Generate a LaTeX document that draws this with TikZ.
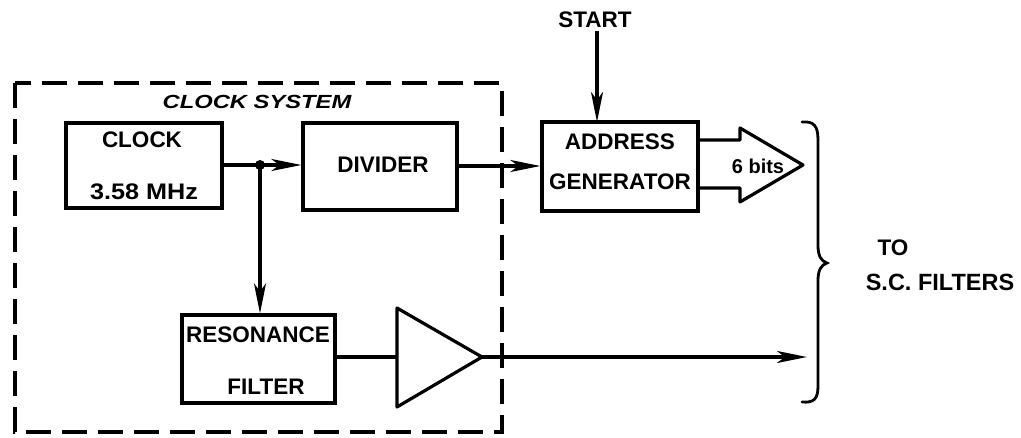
\documentclass[tikz,border=0pt]{standalone}
\usepackage{fontspec}
\setmainfont{Liberation Sans}
\usetikzlibrary{arrows.meta}
\tikzset{
  blk/.style={draw, line width=3.2pt, minimum width=#1, inner sep=0pt},
  lbl/.style={font=\fontsize{22.5}{24}\selectfont\bfseries, inner sep=0pt},
  wire/.style={line width=3.2pt},
  arr/.style={wire, -{Stealth[length=30pt,width=12pt,inset=8pt]}},
  dash box/.style={line width=3.2pt, dash pattern=on 25pt off 11pt},
}
\begin{document}
\begin{tikzpicture}[x=1pt,y=-1pt]
\useasboundingbox (0,0) rectangle (1021,437);
% dashed clock system box
\draw[dash box] (15,83) rectangle (502,432);
\node[font=\fontsize{19}{22}\selectfont\bfseries\itshape\addfontfeature{FakeStretch=1.25}, inner sep=0pt] (cs) at (257,102) {CLOCK SYSTEM};
% blocks
\node[blk=156pt, minimum height=85pt] (clock) at (144,165.5) {};
\node[lbl] (clk1) at (142,140) {CLOCK};
\node[lbl, font=\fontsize{22.5}{24}\selectfont\bfseries\addfontfeature{FakeStretch=1.12}] (clk2) at (144,192) {3.58 MHz};
\node[blk=154pt, minimum height=87pt] (div) at (380,166.5) {};
\node[lbl] (divt) at (383,165) {DIVIDER};
\node[blk=156pt, minimum height=89pt] (addr) at (620,166.5) {};
\node[lbl] (addr1) at (620,142) {ADDRESS};
\node[lbl] (addr2) at (620,182) {GENERATOR};
\node[blk=153pt, minimum height=88pt] (res) at (258.5,359) {};
\node[lbl] (res1) at (258,335) {RESONANCE};
\node[lbl] (res2) at (266,387) {FILTER};
% amplifier
\coordinate (ampin) at (397,357);
\coordinate (ampout) at (482,357);
\draw[wire, line join=round] (397,308) -- (397,407) -- (ampout) -- cycle;
% junction
\coordinate (jn) at (260,165);
\fill (jn) circle (5pt);
\draw[wire] (clock.east |- jn) -- (jn);
\draw[arr] (jn) -- (div.west |- jn);
\draw[arr] (jn) -- (res.north -| jn);
\draw[arr] (div.east |- 0,166) -- (addr.west |- 0,166);
\draw[wire] (res.east |- ampin) -- (ampin);
\coordinate (outend) at (807,357);
\draw[arr] (ampout) -- (outend);
% start
\node[lbl] (start) at (595,20) {START};
\draw[arr] (597,31) -- (597,122);
% 6 bits fat arrow
\draw[wire, line join=round] (addr.east |- 0,140) -- (740,140) -- (740,128) -- (803,165) -- (740,202) -- (740,188) -- (addr.east |- 0,188);
\node[lbl, font=\fontsize{20}{22}\selectfont\bfseries] (bits) at (758,166) {6 bits};
% brace
\draw[line width=2.8pt, line cap=round]
  (802,122) .. controls (814,121) and (818,126) .. (818,140)
  -- (818,245) .. controls (818,256) and (821,261) .. (827,263)
  .. controls (821,265) and (818,270) .. (818,281)
  -- (818,386) .. controls (818,399) and (814,403) .. (802,402);
\node[lbl] (to) at (893,248) {TO};
\node[lbl, font=\fontsize{23.5}{25}\selectfont\bfseries] (scf) at (940,282) {S.C. FILTERS};
\end{tikzpicture}
\end{document}
